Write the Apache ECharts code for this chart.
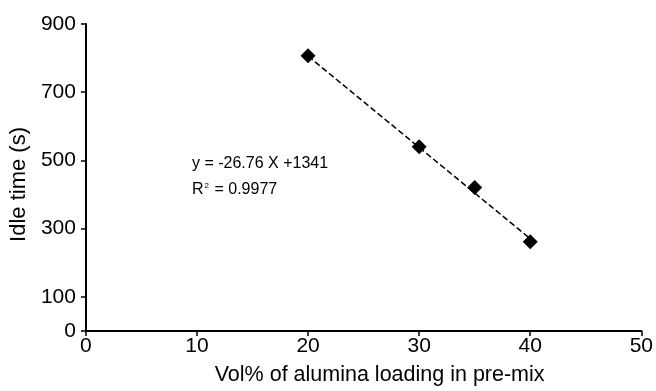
<!DOCTYPE html>
<html><head><meta charset="utf-8">
<script src="https://cdn.jsdelivr.net/npm/echarts@6/dist/echarts.min.js"></script>
<style>html,body{margin:0;padding:0;background:#fff}#c{width:656px;height:391px}</style>
</head><body><div id="c"></div>
<script>
var xValues = [20, 30, 35, 40];
var idleTimes = [807, 540, 421, 262];
var slope = -26.76;
var intercept = 1341;
var trendX = [20, 40];
var yTicks = [0, 100, 300, 500, 700, 900];
var xTicks = [0, 10, 20, 30, 40, 50];
var equationText = 'y = -26.76 X +1341';
var r2Text = '0.9977';

var pts = xValues.map(function(x, i){ return [x, idleTimes[i]]; });
var trend = trendX.map(function(x){ return [x, slope * x + intercept]; });
var F = 'Liberation Sans, Arial, sans-serif';
var chart = echarts.init(document.getElementById('c'));
chart.setOption({
  animation: false,
  backgroundColor: '#fff',
  grid: { left: 81, right: 14.5, top: 24, bottom: 55, containLabel: false },
  xAxis: {
    type: 'value', min: 0, max: 50, interval: 10,
    name: 'Vol% of alumina loading in pre-mix', nameLocation: 'middle', nameGap: 33,
    nameTextStyle: { fontFamily: F, fontSize: 21.5, color: '#000', padding: [0, 0, 0, 32] },
    axisLine: { show: true, onZero: false, lineStyle: { color: '#000', width: 2 } },
    axisTick: { show: true, length: 5, lineStyle: { color: '#000', width: 1.5 }, customValues: xTicks },
    axisLabel: { fontFamily: F, fontSize: 21, color: '#000', margin: 5, customValues: xTicks },
    splitLine: { show: false }
  },
  yAxis: {
    type: 'value', min: 0, max: 900,
    name: 'Idle time (s)', nameLocation: 'middle', nameGap: 49, nameRotate: 90,
    nameTextStyle: { fontFamily: F, fontSize: 22, color: '#000', padding: [0, 14, 0, 0] },
    axisLine: { show: true, onZero: false, lineStyle: { color: '#000', width: 2 } },
    axisTick: { show: true, length: 5, lineStyle: { color: '#000', width: 1.5 }, customValues: yTicks },
    axisLabel: { fontFamily: F, fontSize: 21, color: '#000', margin: 10, customValues: yTicks },
    splitLine: { show: false }
  },
  series: [
    { type: 'line', data: trend, symbol: 'none', silent: true,
      lineStyle: { color: '#000', width: 1.5, type: [6, 3] }, z: 2 },
    { type: 'scatter', data: pts, symbol: 'diamond', symbolSize: 15,
      itemStyle: { color: '#000', opacity: 1 }, z: 3 }
  ],
  graphic: [
    { type: 'text', left: 192, top: 156, style: { text: equationText, font: '16px ' + F, fill: '#000' } },
    { type: 'text', left: 192, top: 182, style: {
        text: '{n|R}{s|2}{n| = ' + r2Text + '}', fill: '#000',
        rich: { n: { fontFamily: F, fontSize: 16, verticalAlign: 'bottom' },
                s: { fontFamily: F, fontSize: 8, verticalAlign: 'top', padding: [0, 1, 8, 1] } } } }
  ]
});
</script></body></html>
